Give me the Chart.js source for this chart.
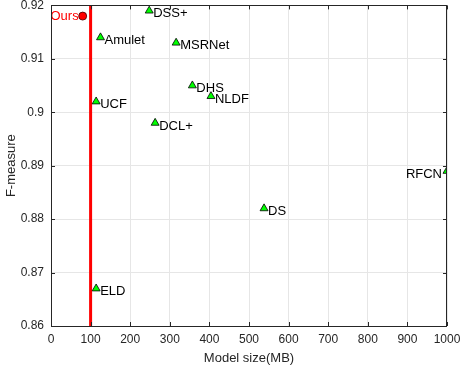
<!DOCTYPE html>
<html>
<head>
<meta charset="utf-8">
<script src="https://cdn.jsdelivr.net/npm/chart.js@4"></script>
<style>
  html, body { margin: 0; padding: 0; background: #fff; }
  #wrap { width: 462px; height: 368px; }
</style>
</head>
<body>
<div id="wrap"><canvas id="c"></canvas></div>
<script>
// data
const methods  = ['DSS+', 'Amulet', 'MSRNet', 'DHS', 'NLDF', 'UCF', 'DCL+', 'RFCN', 'DS', 'ELD'];
const sizes    = [248, 125, 316, 357, 404, 114, 263, 1000, 538, 114];
const fmeasure = [0.919, 0.914, 0.913, 0.905, 0.903, 0.902, 0.898, 0.889, 0.882, 0.867];
const oursName = 'Ours';
const oursSize = [80];
const oursF    = [0.918];
const limitSize = 100;
const leftLabels = ['RFCN'];

const axisColor = '#262626';
const font = "'Liberation Sans', Arial, sans-serif";

// labels next to the markers + inward ticks + box
const decor = {
  id: 'decor',
  afterDatasetsDraw(chart) {
    const c = chart.ctx, a = chart.chartArea;
    const xs = chart.scales.x, ys = chart.scales.y;
    c.save();
    c.font = '13px ' + font;
    c.textBaseline = 'middle';
    c.fillStyle = '#000';
    methods.forEach((m, i) => {
      const px = xs.getPixelForValue(sizes[i]);
      const py = ys.getPixelForValue(fmeasure[i]) + 3;
      if (leftLabels.includes(m)) {
        c.textAlign = 'right';
        c.fillText(m, px - 5, py);
      } else {
        c.textAlign = 'left';
        c.fillText(m, px + 4, py);
      }
    });
    c.fillStyle = '#ff0000';
    c.textAlign = 'right';
    c.fillText(oursName, xs.getPixelForValue(oursSize[0]) - 4, ys.getPixelForValue(oursF[0]));

    // box
    c.strokeStyle = axisColor;
    c.lineWidth = 1;
    c.strokeRect(Math.round(a.left) + 0.5, Math.round(a.top) + 0.5,
                 Math.round(a.right - a.left) - 1, Math.round(a.bottom - a.top));
    // inward ticks
    c.beginPath();
    xs.ticks.forEach(t => {
      const x = Math.round(xs.getPixelForValue(t.value)) + 0.5;
      c.moveTo(x, a.bottom); c.lineTo(x, a.bottom - 4);
      c.moveTo(x, a.top); c.lineTo(x, a.top + 4);
    });
    ys.ticks.forEach(t => {
      const y = Math.round(ys.getPixelForValue(t.value)) + 0.5;
      c.moveTo(a.left, y); c.lineTo(a.left + 4, y);
      c.moveTo(a.right, y); c.lineTo(a.right - 4, y);
    });
    c.stroke();
    c.restore();
  }
};

new Chart(document.getElementById('c'), {
  type: 'scatter',
  data: {
    datasets: [
      {
        type: 'line',
        data: [{ x: limitSize, y: 0.86 }, { x: limitSize, y: 0.92 }],
        borderColor: '#ff0000',
        borderWidth: 3,
        pointRadius: 0,
        order: 3
      },
      {
        data: sizes.map((s, i) => ({ x: s, y: fmeasure[i] })),
        pointStyle: 'triangle',
        pointRadius: 4.6,
        backgroundColor: '#00ff00',
        borderColor: '#000',
        borderWidth: 0.8,
        order: 1
      },
      {
        data: oursSize.map((s, i) => ({ x: s, y: oursF[i] })),
        pointStyle: 'circle',
        pointRadius: 4,
        backgroundColor: '#ff0000',
        borderColor: '#400000',
        borderWidth: 0.8,
        order: 1
      }
    ]
  },
  options: {
    responsive: true,
    maintainAspectRatio: false,
    animation: false,
    layout: { padding: 0 },
    plugins: { legend: { display: false }, tooltip: { enabled: false } },
    scales: {
      x: {
        type: 'linear',
        min: 0, max: 1000,
        ticks: {
          stepSize: 100, color: axisColor, font: { family: font, size: 12 }, padding: 6, maxRotation: 0,
          callback: v => String(v)
        },
        grid: { color: '#e6e6e6', drawTicks: false },
        border: { display: false },
        title: { display: true, text: 'Model size(MB)', color: axisColor, font: { family: font, size: 13 }, padding: { top: 0, bottom: 2 } },
        afterFit(s) { s.height = 42; s.paddingLeft = 0; s.paddingRight = 15; }
      },
      y: {
        min: 0.86, max: 0.92,
        ticks: {
          stepSize: 0.01, color: axisColor, font: { family: font, size: 12 }, padding: 7,
          callback: v => String(parseFloat(v.toFixed(2)))
        },
        grid: { color: '#e6e6e6', drawTicks: false },
        border: { display: false },
        title: { display: true, text: 'F-measure', color: axisColor, font: { family: font, size: 13 }, padding: { top: 4, bottom: 0 } },
        afterFit(s) { s.width = 51; s.paddingTop = 5; s.paddingBottom = 0; }
      }
    }
  },
  plugins: [decor]
});
</script>
</body>
</html>
